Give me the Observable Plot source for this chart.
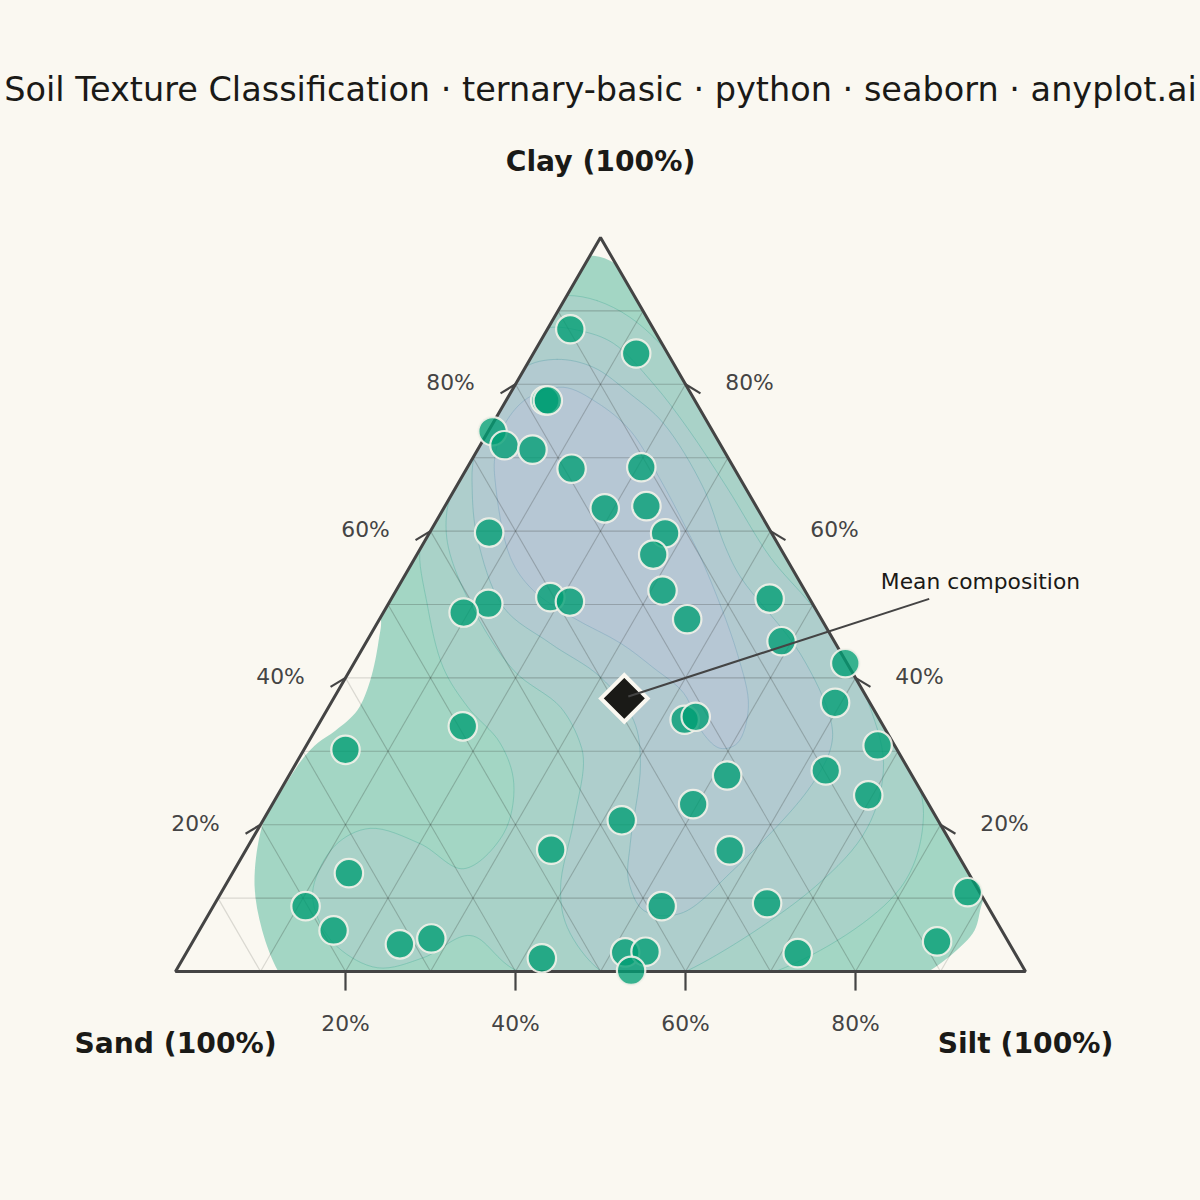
<!DOCTYPE html>
<html>
<head>
<meta charset="utf-8">
<script src="https://cdn.jsdelivr.net/npm/d3@7"></script>
<script src="https://cdn.jsdelivr.net/npm/@observablehq/plot@0.6"></script>
<style>
html,body{margin:0;padding:0;background:#FAF8F1;}
svg{display:block;}
</style>
</head>
<body>
<div id="chart"></div>
<script>
const titleText = "Soil Texture Classification · ternary-basic · python · seaborn · anyplot.ai";
const vertexLabels = [
  {x: 50, y: 110.3, label: "Clay (100%)"},
  {x: 0, y: -9.9, label: "Sand (100%)"},
  {x: 100, y: -9.9, label: "Silt (100%)"}
];
const tickValues = [20, 40, 60, 80];
const gridLevels = [10, 20, 30, 40, 50, 60, 70, 80, 90];

// Samples: silt %, clay %
const silt = [2.7,12.1,4.6,4.9,0.5,2.85,6.45,12.35,20.45,18.95,23.7,27.75,27.8,7.0,31.35,18.6,21.2,11.75,9.45,36.2,44.5,48.8,57.8,59.3,17.1,42.75,43.85,4.9,67.2,62.8,69.5,51.55,49.5,42.2,35.9,56.95,13.7,10.85,15.8,24.55,27.85,42.2,51.6,53.95,53.55,52.75,64.95,71.95,87.55,87.8];
const clay = [87.5,84.2,77.8,77.8,73.6,71.7,71.1,68.5,68.7,63.1,63.4,59.7,56.8,59.8,51.9,51.0,50.4,50.1,48.9,48.0,50.8,45.0,42.0,36.6,33.4,34.3,34.7,30.2,30.8,27.4,24.0,26.7,22.8,20.6,16.6,16.5,13.4,8.9,5.6,3.7,4.5,1.8,2.6,2.7,0.1,8.9,9.3,2.5,4.1,10.8];
const meanSilt = 34.2, meanClay = 37.2;

// Density contours, as [horizontal %, clay %]
const level1 = [[48.8,97.5],[51.5,96.6],[57.1,91.4],[73.5,61.4],[91.2,28.7],[97.1,15.1],[94.9,9.3],[94,5.6],[91.5,2.5],[88.6,0],[82.9,-4],[50,-5.3],[14.7,-4],[12.1,0],[10.2,5.6],[9.3,11.7],[9.9,18.5],[10.9,21.9],[12.5,24.7],[15.1,29.2],[16.8,31.2],[18.8,32.8],[21.4,35.6],[22.9,39.6],[23.9,45.1],[24.1,48.5],[20.6,56],[32.4,77.8],[42.9,95.5]];
const level2 = [[46.1,92.1],[49.6,91.4],[53.5,89.1],[58,84.3],[66.5,71],[77.1,51.9],[82.9,38.3],[86.1,29.7],[88,21.5],[85.3,11.4],[70.8,0.1],[55.9,-2.6],[40.2,0.1],[34.7,4.9],[29.2,1.9],[23.8,0.5],[19.1,3.3],[16.7,7.4],[16.2,11.4],[18.8,17.2],[22.9,19.5],[28.8,17.4],[33.9,14],[38.6,18.8],[39.8,25.6],[38.2,31.1],[34.4,36],[31.5,41.4],[29.6,50.1],[28.8,57.8],[30.2,60.8],[33.5,71],[42.9,91.4]];
const level3 = [[43.9,87.7],[47.6,87.3],[51.5,85.6],[56.2,80.1],[60.2,74.1],[64.9,65.9],[70,56.4],[74.7,50.1],[78.8,43.7],[81.2,37.6],[83.3,28.3],[81.4,19.6],[75.1,11.4],[60.2,0.1],[54.7,-1.9],[50,0.1],[46.1,6],[45.3,11.4],[46.8,20.2],[48,28.3],[47.6,31.1],[45.3,36],[39.8,41],[34.7,50.1],[32.1,57.8],[31.9,62.4],[32.6,65.5],[37.1,77.8],[41.2,86]];
const level4 = [[40.9,82.2],[44.9,83.4],[49.2,82.3],[53.5,78.7],[57.4,74.7],[62.1,65.9],[64.7,57.8],[66.5,53.7],[73.5,43.3],[77.1,34.2],[77.1,30.5],[74.4,24.7],[65.6,13.8],[59.4,7.9],[55.1,8.3],[53.3,12.4],[53.5,17.4],[54.7,28.3],[53.9,34.2],[50,40.1],[44.1,44.7],[38.6,49.6],[35.5,59.1],[34.9,65.9],[35.1,70],[37.1,76.4]];
const level5 = [[37.6,66.9],[37.6,70.3],[38.8,74.7],[41.4,78.1],[45.6,79.6],[49.6,77.5],[53.5,73.7],[57.1,66.9],[60.2,60.1],[62.1,55.6],[66.1,43.3],[67.4,36],[66.1,31.1],[64.1,30.4],[62.1,32.4],[59.8,37.9],[56.2,41.4],[52.4,44.7],[46.8,48.2],[42.1,51.9],[39.4,56.4]];

const levels = [
  {pts: level1, fill: "#A3D6C4", stroke: "none"},
  {pts: level2, fill: "#A9D2C8", stroke: "#62B9A4"},
  {pts: level3, fill: "#AECECC", stroke: "#62B4A8"},
  {pts: level4, fill: "#B2CAD0", stroke: "#6BABB0"},
  {pts: level5, fill: "#B6C7D4", stroke: "#7FA6BE"}
];

const triangle = [[0,0],[100,0],[50,100]];
const annotationEnd = {x: 88.2, y: 50.5};
const annotationLabel = {x: 94.7, y: 53.1, label: "Mean composition"};

const ink = "#1A1A17", axisInk = "#444444", bg = "#FAF8F1", green = "#009E73";
const hx = (s, c) => s + c / 2;
const points = silt.map((s, i) => ({x: hx(s, clay[i]), y: clay[i]}));
const mean = {x: hx(meanSilt, meanClay), y: meanClay};

const gridSegs = gridLevels.flatMap(v => [
  {x1: v/2, y1: v, x2: 100 - v/2, y2: v},
  {x1: v, y1: 0, x2: v + (100 - v)/2, y2: 100 - v},
  {x1: 100 - v, y1: 0, x2: (100 - v)/2, y2: 100 - v}
]);

const clipTo = id => (index, scales, values, dims, ctx, next) => {
  const g = next(index, scales, values, dims, ctx);
  g.setAttribute("clip-path", `url(#${id})`);
  return g;
};
const font = "'DejaVu Sans', sans-serif";
const tickOut = [1.76, 1.23];

const plot = Plot.plot({
  width: 1200, height: 1200, margin: 0,
  style: {background: bg, fontFamily: font},
  x: {domain: [-20.588, 120.588], range: [0, 1200], axis: null},
  y: {domain: [-31.2, 132.29], range: [1200, 0], axis: null},
  marks: [
    Plot.link(gridSegs, {x1: "x1", y1: "y1", x2: "x2", y2: "y2", stroke: ink, strokeOpacity: 0.14, strokeWidth: 1.2}),
    ...levels.map(l => Plot.line(l.pts, {
      x: d => d[0], y: d => d[1], curve: "catmull-rom-closed",
      fill: l.fill, stroke: l.stroke, strokeOpacity: 0.75, strokeWidth: 0.7, render: clipTo("tri")
    })),
    Plot.link(gridSegs, {x1: "x1", y1: "y1", x2: "x2", y2: "y2", stroke: ink, strokeOpacity: 0.22, strokeWidth: 1.1, render: clipTo("outer")}),
    Plot.link(tickValues, {x1: v => v/2, y1: v => v, x2: v => v/2 - tickOut[0], y2: v => v - tickOut[1], stroke: axisInk, strokeWidth: 2.2}),
    Plot.link(tickValues, {x1: v => 100 - v/2, y1: v => v, x2: v => 100 - v/2 + tickOut[0], y2: v => v - tickOut[1], stroke: axisInk, strokeWidth: 2.2}),
    Plot.link(tickValues, {x1: v => v, y1: 0, x2: v => v, y2: -2.6, stroke: axisInk, strokeWidth: 2.2}),
    Plot.line(triangle, {x: d => d[0], y: d => d[1], curve: "linear-closed", stroke: axisInk, strokeWidth: 3, strokeLinejoin: "miter"}),
    Plot.dot(points, {x: "x", y: "y", r: 14.2, fill: green, fillOpacity: 0.78, stroke: "#F4F2EA", strokeOpacity: 0.9, strokeWidth: 2.2}),
    Plot.dot([mean], {x: "x", y: "y", r: 21, symbol: "diamond2", fill: ink, stroke: bg, strokeWidth: 4}),
    Plot.link([mean], {x1: "x", y1: "y", x2: () => annotationEnd.x, y2: () => annotationEnd.y, stroke: axisInk, strokeWidth: 2, dx: 4, dy: -2}),
    Plot.text([annotationLabel], {x: "x", y: "y", text: "label", fontSize: 21.8, fill: ink, fontFamily: font}),
    Plot.text(tickValues, {x: v => v/2, y: v => v, text: v => v + "%", dx: -65, dy: -1, fontSize: 21.8, fill: axisInk, fontFamily: font}),
    Plot.text(tickValues, {x: v => 100 - v/2, y: v => v, text: v => v + "%", dx: 64, dy: -1, fontSize: 21.8, fill: axisInk, fontFamily: font}),
    Plot.text(tickValues, {x: v => v, y: 0, text: v => v + "%", dy: 53, fontSize: 21.8, fill: axisInk, fontFamily: font}),
    Plot.text(vertexLabels, {x: "x", y: "y", text: "label", fontSize: 28.2, fontWeight: "bold", fill: ink, fontFamily: font}),
    Plot.text([titleText], {x: () => 50, y: () => 120, text: d => d, fontSize: 33.5, fill: ink, fontFamily: font})
  ]
});

const X = plot.scale("x").apply, Y = plot.scale("y").apply;
const ns = "http://www.w3.org/2000/svg";
const defs = document.createElementNS(ns, "defs");
const mk = (id, d) => {
  const c = document.createElementNS(ns, "clipPath"); c.setAttribute("id", id);
  const p = document.createElementNS(ns, "path"); p.setAttribute("d", d);
  c.appendChild(p); defs.appendChild(c);
};
mk("tri", d3.line().x(d => X(d[0])).y(d => Y(d[1])).curve(d3.curveLinearClosed)(triangle));
mk("outer", d3.line().x(d => X(d[0])).y(d => Y(d[1])).curve(d3.curveCatmullRomClosed)(level1));
plot.insertBefore(defs, plot.firstChild);
document.getElementById("chart").appendChild(plot);
</script>
</body>
</html>
